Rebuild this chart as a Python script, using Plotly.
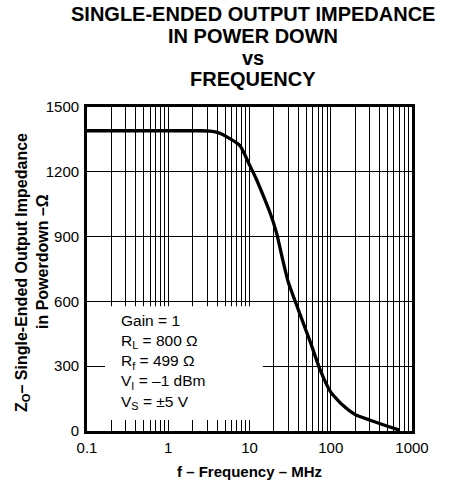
import plotly.graph_objects as go

# ---- data ----
freq_mhz = [0.1, 1, 2.5, 3.3, 4.2, 5.2, 7.6, 10, 12, 15.5, 18, 21.6, 25, 30, 40, 50,
            56, 74, 100, 140, 200, 300, 490, 700]
impedance = [1390, 1390, 1390, 1388, 1380, 1363, 1322, 1232, 1170, 1070, 1008, 915,
             810, 690, 560, 462, 412, 283, 180, 120, 76, 51, 23, 4]

x_major = [0.1, 1, 10, 100, 1000]
x_labels = ["0.1", "1", "10", "100", "1000"]
y_ticks = [0, 300, 600, 900, 1200, 1500]

legend_lines = ["Gain = 1", "R<sub>L</sub> = 800 Ω", "R<sub>f</sub> = 499 Ω",
                "V<sub>I</sub> = –1 dBm", "V<sub>S</sub> = ±5 V"]
title_lines = ["SINGLE-ENDED OUTPUT IMPEDANCE", "IN POWER DOWN", "vs", "FREQUENCY"]

# all 1..9 x decade gridline/tick positions
x_tickvals, x_ticktext = [], []
for d in [0.1, 1, 10, 100]:
    for m in range(1, 10):
        v = round(m * d, 6)
        x_tickvals.append(v)
        x_ticktext.append(x_labels[x_major.index(v)] if v in x_major else "")
x_tickvals.append(1000)
x_ticktext.append("1000")

FONT = "Liberation Sans, Arial, Helvetica, sans-serif"
W, H = 454, 485
# plot area in screenshot pixels
L, R, T, B = 87, 412, 107, 431
pw, ph = R - L, B - T

def py(ypx):
    return (B - ypx) / ph

def px(xpx):
    return (xpx - L) / pw

fig = go.Figure()
fig.add_trace(go.Scatter(
    x=freq_mhz, y=impedance, mode="lines",
    line=dict(color="black", width=3.3, shape="spline", smoothing=0.5),
    showlegend=False, hoverinfo="skip"))

fig.update_layout(
    width=W, height=H,
    margin=dict(l=L, r=W - R, t=T, b=H - B, pad=0),
    paper_bgcolor="white", plot_bgcolor="white",
    font=dict(family=FONT, color="black", size=15),
    showlegend=False,
)

fig.update_xaxes(
    type="log", range=[-1, 3],
    tickmode="array", tickvals=x_tickvals, ticktext=x_ticktext,
    ticks="inside", ticklen=11, tickwidth=1, tickcolor="black",
    showgrid=True, gridcolor="black", gridwidth=1,
    showline=True, linecolor="black", linewidth=2.7, mirror=True,
    zeroline=False, tickfont=dict(size=15, family=FONT),
    ticklabelstandoff=1, automargin=False,
)
fig.update_yaxes(
    range=[0, 1500], tickmode="array", tickvals=y_ticks,
    ticks="inside", ticklen=18, tickwidth=1, tickcolor="black",
    showgrid=True, gridcolor="black", gridwidth=1,
    showline=True, linecolor="black", linewidth=2.7, mirror=True,
    zeroline=False, tickfont=dict(size=15, family=FONT),
    ticklabelstandoff=2, automargin=False,
)

# white block behind the condition text (covers gridlines, ticks remain)
fig.add_shape(type="rect", xref="x", yref="y", x0=0.1, x1=14.6, y0=0, y1=578,
              fillcolor="white", line=dict(width=0), layer="between")

# condition text
fig.add_annotation(
    text="<br>".join(legend_lines), xref="paper", yref="paper",
    x=px(119), y=py(362), xanchor="left", yanchor="middle", align="left",
    showarrow=False, font=dict(size=15.5, family=FONT, color="black"))

# title lines
for line, ypx in zip(title_lines, [14, 36, 58, 79]):
    fig.add_annotation(
        text=f"<b>{line}</b>", xref="paper", yref="paper",
        x=px(253), y=py(ypx), xanchor="center", yanchor="middle",
        showarrow=False, font=dict(size=20, family=FONT, color="black"))

# axis titles
fig.add_annotation(
    text="<b>f – Frequency – MHz</b>", xref="paper", yref="paper",
    x=0.5, y=py(472), xanchor="center", yanchor="middle",
    showarrow=False, font=dict(size=15, family=FONT, color="black"))
fig.add_annotation(
    text="<b>Z<sub>O</sub>– Single-Ended Output Impedance</b>", xref="paper", yref="paper",
    x=px(22), y=py(273), xanchor="center", yanchor="middle", textangle=-90,
    showarrow=False, font=dict(size=16, family=FONT, color="black"))
fig.add_annotation(
    text="<b>in Powerdown –Ω</b>", xref="paper", yref="paper",
    x=px(42), y=py(262), xanchor="center", yanchor="middle", textangle=-90,
    showarrow=False, font=dict(size=16, family=FONT, color="black"))

fig.write_html("out.html", config={"displayModeBar": False},
               post_script="document.body.style.margin='0';")
